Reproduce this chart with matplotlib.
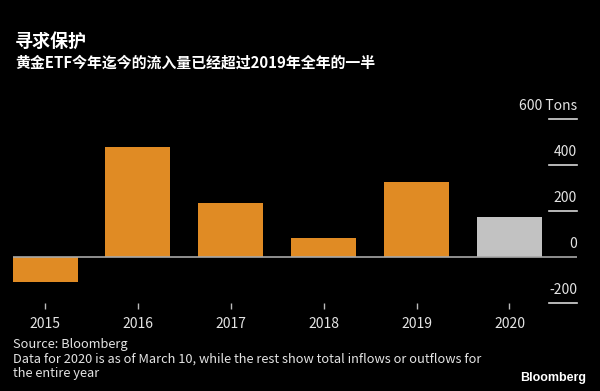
import matplotlib
matplotlib.use("Agg")
from matplotlib import pyplot as plt
import numpy as np

# data (tons)
years = ["2015", "2016", "2017", "2018", "2019", "2020"]
flows = [-111, 476, 235, 81, 326, 174]
bar_colors = ["#E08B24", "#E08B24", "#E08B24", "#E08B24", "#E08B24", "#C2C2C2"]
y_ticks = [-200, 0, 200, 400, 600]
y_labels = ["-200", "0", "200", "400", "600 Tons"]

title = "寻求保护"
subtitle = "黄金ETF今年迄今的流入量已经超过2019年全年的一半"
notes = ["Source: Bloomberg",
         "Data for 2020 is as of March 10, while the rest show total inflows or outflows for",
         "the entire year"]

plt.rcParams['font.family'] = ['Liberation Sans Narrow', 'Noto Sans CJK SC', 'DejaVu Sans']
txt = "#E4E4E4"

fig = plt.figure(figsize=(6, 3.91), dpi=100, facecolor="black")
ax = fig.add_axes([12.5/600, (391-302.7)/391, 564.5/600, 184/391])
ax.set_facecolor("black")

x = np.arange(len(years))
ax.bar(x, flows, width=0.7, color=bar_colors, zorder=2)

ax.set_xlim(-0.35, 5.727)
ax.set_ylim(-200, 600)

# zero line across, short stubs for the rest on the right
ax.axhline(0, color="#A8A8A8", linewidth=1.2, zorder=3)
for v, lab in zip(y_ticks, y_labels):
    if v != 0:
        ax.axhline(v, xmin=0.950, xmax=1.0, color="#D8D8D8", linewidth=1.2, clip_on=False)
    ax.annotate(lab, xy=(1.0, v), xycoords=("axes fraction", "data"),
                xytext=(0, 9), textcoords="offset points",
                ha="right", va="center", color=txt, fontsize=10)

for s in ax.spines.values():
    s.set_visible(False)
ax.set_yticks([])
ax.set_xticks(x)
ax.set_xticklabels(years)
ax.tick_params(axis="x", colors="#BBBBBB", length=4.5, width=1, pad=6,
               labelsize=10, labelcolor=txt)

fig.text(15/600, 1-41/391, title, va="center", ha="left", color="white",
         fontsize=13, fontweight="bold", family=["Noto Sans CJK SC", "DejaVu Sans"])
fig.text(15/600, 1-63/391, subtitle, va="center", ha="left", color="white",
         fontsize=10.75, fontweight="bold", family=["Noto Sans CJK SC", "DejaVu Sans"])

for i, line in enumerate(notes):
    fig.text(13/600, 1-(344.5 + i*14.3)/391, line, va="center", ha="left",
             color=txt, fontsize=9.25)

fig.text(586/600, 1-378/391, "Bloomberg", va="center", ha="right", color="white",
         fontsize=9, fontweight="bold", family=["Liberation Sans", "DejaVu Sans"])

fig.savefig("out.png", dpi=100, facecolor="black")
